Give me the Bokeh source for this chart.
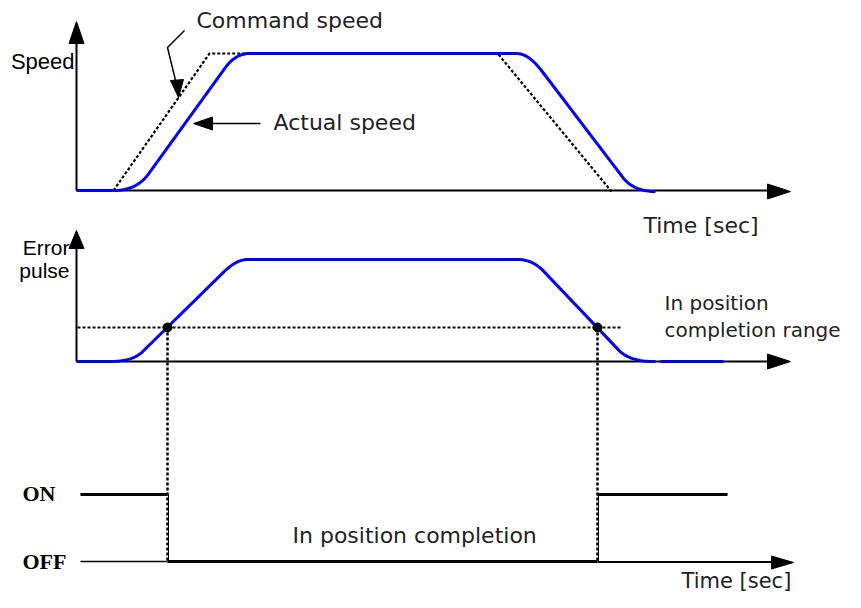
import numpy as np
from bokeh.plotting import figure
from bokeh.models import Range1d
from bokeh.core.properties import value
from bokeh.embed import file_html
from bokeh.resources import INLINE

# ---------------- data (diagram coordinates: x to the right, y downward) ----------------
# Actual speed profile: corner points and rounding (in, out) at interior corners
speed_x = [76, 136, 235, 528, 633, 655]
speed_y = [190, 190, 53, 53, 191, 191]
speed_r = [(23, 20), (18, 14), (12, 22), (18, 22)]

# Command speed (dotted)
cmd_up_x = [113, 209, 248]
cmd_up_y = [190, 53, 53]
cmd_dn_x = [498, 611]
cmd_dn_y = [54, 191]

# Error pulse profile
err_x = [76, 132, 236, 532, 629, 655]
err_y = [361, 361, 259, 259, 361, 361]
err_r = [(22, 14), (18, 11), (15, 16), (16, 24)]
err_tail_x = [660, 723]
err_tail_y = [361, 361]

# In-position range level and crossing points
range_level = 327
range_x = [77, 622]
cross_x = [167, 597]

# Digital signal
on_level = 494
off_level = 561
on_left_x = [80, 167]
on_right_x = [597, 727]

# axes (origin x, origin y, end x for horizontal, end y for vertical)
axes_h = [(76, 190, 770), (76, 361, 770), (80, 561, 775)]
axes_v = [(76, 190, 42), (76, 361, 246)]
arrow_right = [(790, 191, 767, 7.5), (790, 361, 767, 7.5), (793, 562, 771, 6.5)]
arrow_up = [(76, 21, 43, 7.5), (76, 230, 248, 7.5)]

# labels: (x, baseline y, text, font key, size, align)
labels = [
    (74, 69, "Speed", "arial", 22, "right"),
    (69, 255, "Error", "arial", 21, "right"),
    (69, 278, "pulse", "arial", 21, "right"),
    (196, 28, "Command speed", "sans", 22, "left"),
    (273, 130, "Actual speed", "sans", 22, "left"),
    (643, 233, "Time [sec]", "sans", 22, "left"),
    (664, 310, "In position", "sans", 20, "left"),
    (664, 337, "completion range", "sans", 20, "left"),
    (292, 543, "In position completion", "sans", 22, "left"),
    (681, 588, "Time [sec]", "sans", 21, "left"),
    (22, 501, "ON", "times", 22, "left"),
    (22, 569, "OFF", "times", 22, "left"),
]
TEXT_SHIFT = 8  # renderer places alphabetic baseline lower than requested


def rounded(xs, ys, radii, n=24):
    px, py = [xs[0]], [ys[0]]
    for i in range(1, len(xs) - 1):
        cx, cy = xs[i], ys[i]
        ax, ay = xs[i - 1], ys[i - 1]
        bx, by = xs[i + 1], ys[i + 1]
        rin, rout = radii[i - 1]
        d1 = np.hypot(cx - ax, cy - ay)
        d2 = np.hypot(bx - cx, by - cy)
        p0 = (cx + (ax - cx) * rin / d1, cy + (ay - cy) * rin / d1)
        p2 = (cx + (bx - cx) * rout / d2, cy + (by - cy) * rout / d2)
        t = np.linspace(0, 1, n)
        qx = (1 - t) ** 2 * p0[0] + 2 * (1 - t) * t * cx + t ** 2 * p2[0]
        qy = (1 - t) ** 2 * p0[1] + 2 * (1 - t) * t * cy + t ** 2 * p2[1]
        px.extend(qx.tolist())
        py.extend(qy.tolist())
    px.append(xs[-1])
    py.append(ys[-1])
    return px, py


p = figure(width=845, height=592, output_backend="svg", toolbar_location=None,
           x_range=Range1d(0, 845), y_range=Range1d(592, 0), min_border=0)
p.axis.visible = False
p.grid.visible = False
p.outline_line_color = None
p.background_fill_color = "white"
p.border_fill_color = "white"

# axes lines
for (x0, y0, x1) in axes_h[:2]:
    p.line([x0, x1], [y0, y0], line_color="black", line_width=2)
for (x0, y0, y1) in axes_v:
    p.line([x0, x0], [y0, y1], line_color="black", line_width=2)

# arrowheads
hx, hy = [], []
for (tx, ty, bx, hw) in arrow_right:
    hx.append([tx, bx, bx]); hy.append([ty, ty - hw, ty + hw])
for (tx, ty, by, hw) in arrow_up:
    hx.append([tx, tx - hw, tx + hw]); hy.append([ty, by, by])
# annotation arrows
hx.append([178, 170, 183]); hy.append([97, 80, 79])
hx.append([193, 212, 212]); hy.append([123, 116.5, 129.5])
p.patches(hx, hy, fill_color="black", line_color="black", line_width=1)

# annotation leader lines
p.line([184, 167, 176], [30, 47, 84], line_color="black", line_width=1.5)
p.line([260, 208], [123, 123], line_color="black", line_width=1.5)

# command speed dotted
p.line(cmd_up_x, cmd_up_y, line_color="black", line_width=2.2, line_dash="3 2")
p.line(cmd_dn_x, cmd_dn_y, line_color="black", line_width=2.2, line_dash="3 2")

# actual speed
sx, sy = rounded(speed_x, speed_y, speed_r)
p.line(sx, sy, line_color="#0000ff", line_width=3, line_join="round")

# error pulse
ex, ey = rounded(err_x, err_y, err_r)
p.line(ex, ey, line_color="#0000ff", line_width=3, line_join="round")
p.line(err_tail_x, err_tail_y, line_color="#0000ff", line_width=3)

# in-position range
p.line(range_x, [range_level, range_level], line_color="black", line_width=2.2, line_dash="3 2")
for cx in cross_x:
    p.line([cx, cx], [range_level, off_level], line_color="black", line_width=2.5, line_dash="3 2")
    p.line([cx + 1, cx + 1], [on_level, off_level], line_color="black", line_width=1)
p.scatter(cross_x, [range_level] * len(cross_x), size=9, fill_color="black", line_color="black")

# digital signal
p.line(on_left_x, [on_level, on_level], line_color="black", line_width=3)
p.line(on_right_x, [on_level, on_level], line_color="black", line_width=3)
p.line([on_left_x[0], cross_x[0]], [off_level, off_level], line_color="black", line_width=1.5)
p.line([cross_x[0], cross_x[1]], [off_level, off_level], line_color="black", line_width=3)
p.line([cross_x[1], axes_h[2][2]], [off_level + 0.5, off_level + 0.5], line_color="black", line_width=2)

# texts
fonts = {"sans": value("DejaVu Sans"), "arial": value("Liberation Sans"),
         "times": value("Liberation Serif")}
colors = {"sans": "#222222", "arial": "black", "times": "black"}
styles = {"sans": "normal", "arial": "normal", "times": "bold"}

for (x, y, s, fk, size, align) in labels:
    p.text([x], [y - TEXT_SHIFT], text=[s], text_font=fonts[fk], text_font_size=f"{size}px",
           text_color=colors[fk], text_align=align, text_baseline="alphabetic",
           text_font_style=styles[fk])

open("out.html", "w").write(file_html(p, INLINE))
